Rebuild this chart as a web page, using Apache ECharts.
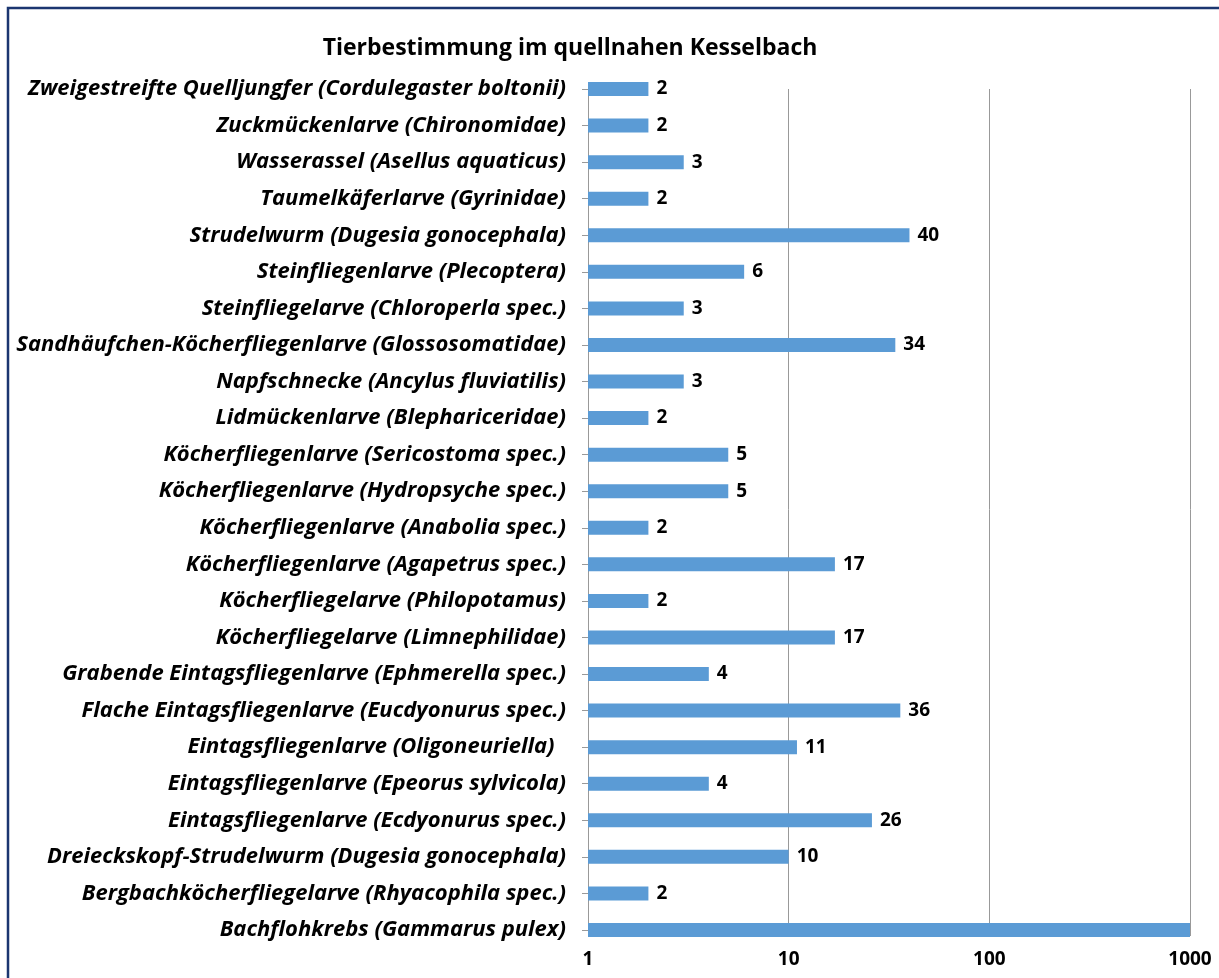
<!DOCTYPE html>
<html>
<head>
<meta charset="utf-8">
<script src="https://cdn.jsdelivr.net/npm/echarts@6/dist/echarts.min.js"></script>
<style>
html,body{margin:0;padding:0;background:#fff;}
#c{width:1219px;height:978px;}
</style>
</head>
<body>
<div id="c"></div>
<script>
const titleText = 'Tierbestimmung im quellnahen Kesselbach';
const categories = [
  'Zweigestreifte Quelljungfer (Cordulegaster boltonii)',
  'Zuckmückenlarve (Chironomidae)',
  'Wasserassel (Asellus aquaticus)',
  'Taumelkäferlarve (Gyrinidae)',
  'Strudelwurm (Dugesia gonocephala)',
  'Steinfliegenlarve (Plecoptera)',
  'Steinfliegelarve (Chloroperla spec.)',
  'Sandhäufchen-Köcherfliegenlarve (Glossosomatidae)',
  'Napfschnecke (Ancylus fluviatilis)',
  'Lidmückenlarve (Blephariceridae)',
  'Köcherfliegenlarve (Sericostoma spec.)',
  'Köcherfliegenlarve (Hydropsyche spec.)',
  'Köcherfliegenlarve (Anabolia spec.)',
  'Köcherfliegenlarve (Agapetrus spec.)',
  'Köcherfliegelarve (Philopotamus)',
  'Köcherfliegelarve (Limnephilidae)',
  'Grabende Eintagsfliegenlarve (Ephmerella spec.)',
  'Flache Eintagsfliegenlarve (Eucdyonurus spec.)',
  'Eintagsfliegenlarve (Oligoneuriella)  ',
  'Eintagsfliegenlarve (Epeorus sylvicola)',
  'Eintagsfliegenlarve (Ecdyonurus spec.)',
  'Dreieckskopf-Strudelwurm (Dugesia gonocephala)',
  'Bergbachköcherfliegelarve (Rhyacophila spec.)',
  'Bachflohkrebs (Gammarus pulex)'
];
const counts = [2, 2, 3, 2, 40, 6, 3, 34, 3, 2, 5, 5, 2, 17, 2, 17, 4, 36, 11, 4, 26, 10, 2, 1000];
const hiddenLabelIndex = [23];
const axisTicks = [1, 10, 100, 1000];

const chart = echarts.init(document.getElementById('c'), null, {renderer: 'canvas'});
const seriesData = counts.map((v, i) => hiddenLabelIndex.includes(i)
  ? {value: v, label: {show: false}}
  : {value: v});

chart.setOption({
  animation: false,
  backgroundColor: '#ffffff',
  title: {
    text: titleText,
    left: 565, top: 32,
    textAlign: 'center',
    textStyle: {fontFamily: 'Open Sans', fontWeight: 'bold', fontSize: 23, color: '#000'}
  },
  graphic: [{
    type: 'polyline',
    shape: {points: [[8, 990], [8, 8], [1230, 8]]},
    style: {stroke: '#1b3670', lineWidth: 2.5, fill: null}
  }],
  grid: {left: 588, right: 29, top: 89, bottom: 48, containLabel: false},
  xAxis: {
    type: 'log', logBase: 10, min: 1, max: 1000,
    axisLine: {show: false},
    axisTick: {show: true, length: 6, lineStyle: {color: '#999999'}},
    splitLine: {show: true, lineStyle: {color: '#999999', width: 1}},
    axisLabel: {
      margin: 20,
      fontFamily: 'Open Sans', fontWeight: 'bold', fontSize: 19, color: '#000',
      formatter: v => axisTicks.includes(Math.round(v)) ? String(Math.round(v)) : ''
    }
  },
  yAxis: {
    type: 'category', data: categories, inverse: true, boundaryGap: false,
    axisLine: {show: true, lineStyle: {color: '#999999', width: 1}},
    axisTick: {show: true, length: 6, lineStyle: {color: '#999999'}},
    splitLine: {show: false},
    axisLabel: {
      margin: 22, interval: 0,
      fontFamily: 'Open Sans', fontWeight: 'bold', fontStyle: 'italic', fontSize: 22, color: '#000'
    }
  },
  series: [{
    type: 'bar', data: seriesData, barWidth: 14, clip: true,
    itemStyle: {color: '#5b9bd5'},
    label: {
      show: true, position: 'right', distance: 8,
      fontFamily: 'Open Sans', fontWeight: 'bold', fontSize: 19, color: '#000'
    }
  }]
});
</script>
</body>
</html>
